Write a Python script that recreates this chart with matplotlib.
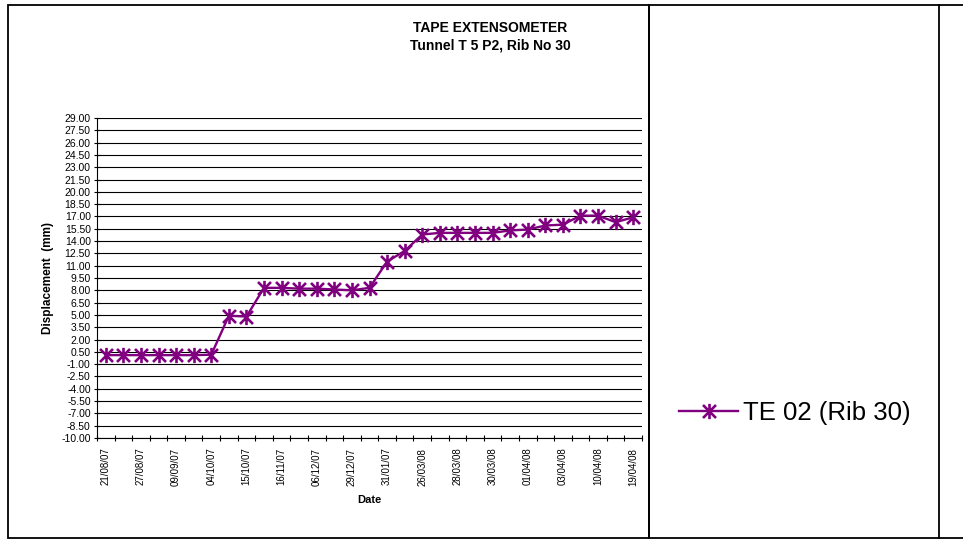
import matplotlib
matplotlib.use("Agg")
import matplotlib.pyplot as plt
from matplotlib.path import Path
from matplotlib.patches import Rectangle
from matplotlib.lines import Line2D
import numpy as np

plt.rcParams['font.family'] = ['Liberation Sans', 'DejaVu Sans']

# ---- data ----
date_labels = ["21/08/07", "27/08/07", "09/09/07", "04/10/07", "15/10/07", "16/11/07",
               "06/12/07", "29/12/07", "31/01/07", "26/03/08", "28/03/08", "30/03/08",
               "01/04/08", "03/04/08", "10/04/08", "19/04/08"]
displacement = [0.10, 0.10, 0.10, 0.10, 0.10, 0.10, 0.15,
                4.9, 4.8,
                8.3, 8.3, 8.2, 8.2, 8.1, 8.0, 8.3,
                11.5, 12.8,
                14.8, 15.0, 15.0, 15.0, 15.0, 15.3, 15.4, 15.9, 16.0, 17.1, 17.1, 16.3, 16.9]
series_name = "TE 02 (Rib 30)"
yticks = [-10.00 + 1.5 * i for i in range(27)]

purple = "#800080"
star = Path([(0, -1), (0, 1), (-0.85, -0.85), (0.85, 0.85), (-0.85, 0.85), (0.85, -0.85)],
            [Path.MOVETO, Path.LINETO, Path.MOVETO, Path.LINETO, Path.MOVETO, Path.LINETO])

fig = plt.figure(figsize=(9.63, 5.40), dpi=100)

# frames
def frect(x0, y0, x1, y1, lw=1.3):
    fig.add_artist(Rectangle((x0 / 963, 1 - y1 / 540), (x1 - x0) / 963, (y1 - y0) / 540,
                             transform=fig.transFigure, fill=False, edgecolor="black", lw=lw))
frect(8, 5, 649, 538)
frect(649, 5, 939, 538)
fig.add_artist(Line2D([939 / 963, 1], [1 - 5 / 540] * 2, transform=fig.transFigure, color="black", lw=1.3))
fig.add_artist(Line2D([939 / 963, 1], [1 - 538 / 540] * 2, transform=fig.transFigure, color="black", lw=1.3))

ax = fig.add_axes([97 / 963, 1 - 438 / 540, (642 - 97) / 963, (438 - 118) / 540])
x = np.arange(len(displacement))
line, = ax.plot(x, displacement, color=purple, lw=1.7, marker=star, markersize=11,
                markeredgewidth=1.9, markeredgecolor=purple, label=series_name)

ax.set_xlim(-0.5, len(displacement) - 0.5)
ax.set_ylim(-10, 29)
ax.set_yticks(yticks)
ax.set_yticklabels([f"{v:.2f}" for v in yticks], fontsize=7.5)
ax.yaxis.grid(True, color="black", lw=0.8)
ax.set_axisbelow(True)

ax.set_xticks(np.arange(-0.5, len(displacement), 1.0))
ax.set_xticklabels([])
ax.set_xticks(np.arange(0, len(displacement), 2), minor=True)
ax.set_xticklabels(date_labels, minor=True, rotation=90, fontsize=7)
ax.tick_params(axis="x", which="minor", length=0, pad=7)
ax.tick_params(axis="x", which="major", length=4, direction="inout", width=0.8)
ax.tick_params(axis="y", length=5, direction="inout", width=0.8, pad=2)

for s in ["top", "right"]:
    ax.spines[s].set_visible(False)
ax.spines["left"].set_linewidth(0.8)
ax.spines["bottom"].set_linewidth(0.8)

ax.set_ylabel("Displacement  (mm)", fontsize=8.5, fontweight="bold", labelpad=5)
ax.set_xlabel("Date", fontsize=8, fontweight="bold", labelpad=7)

fig.text(490 / 963, 1 - 28 / 540, "TAPE EXTENSOMETER", ha="center", va="center",
         fontsize=10, fontweight="bold")
fig.text(490 / 963, 1 - 46 / 540, "Tunnel T 5 P2, Rib No 30", ha="center", va="center",
         fontsize=10, fontweight="bold")

fig.legend(handles=[line], labels=[series_name], loc="center left",
           bbox_to_anchor=(679 / 963, 1 - 413 / 540), frameon=False, fontsize=18.5,
           handlelength=2.3, handletextpad=0.2, borderpad=0, borderaxespad=0)

fig.savefig("out.png", dpi=100)
